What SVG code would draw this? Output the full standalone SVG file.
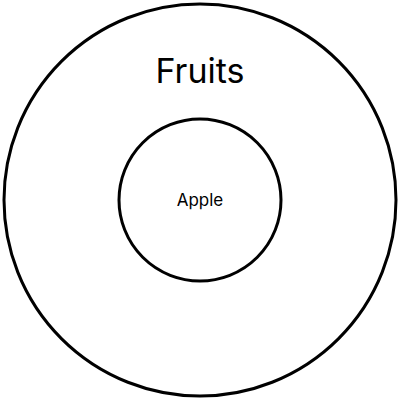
<svg xmlns="http://www.w3.org/2000/svg" width="400" height="400" viewBox="0 0 400 400">
<style>
.ring{fill:none;stroke:#000;stroke-width:3}
.lbl{font-family:Inter,"Noto Sans",sans-serif;fill:#000;text-anchor:middle}
</style>
<rect width="400" height="400" fill="#fff"/>
<g id="fruits">
<circle class="ring" cx="200" cy="200" r="196"/>
<text class="lbl" x="200" y="83" font-size="34">Fruits</text>
</g>
<g id="apple">
<circle class="ring" cx="200" cy="200" r="81"/>
<text class="lbl" x="200" y="206" font-size="17">Apple</text>
</g>
<g id="connectors"/>
</svg>
